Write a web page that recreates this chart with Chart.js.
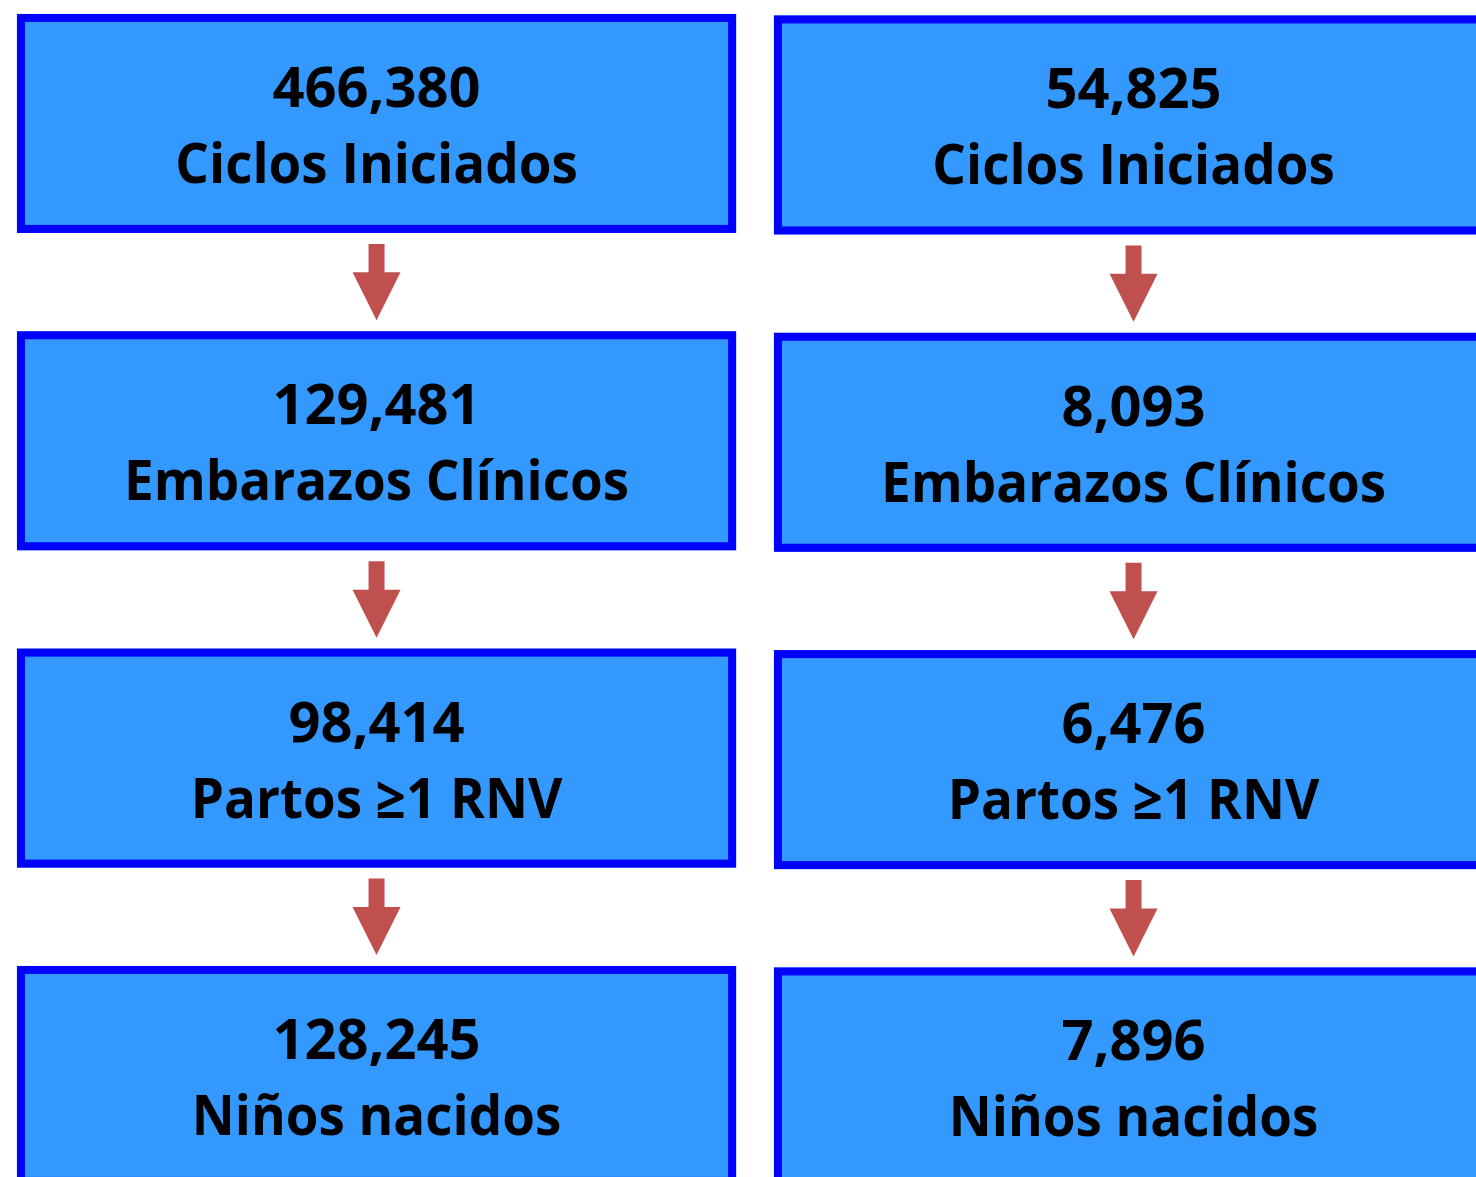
<!DOCTYPE html>
<html>
<head>
<meta charset="utf-8">
<script src="https://cdn.jsdelivr.net/npm/chart.js@4.4.1/dist/chart.umd.min.js"></script>
<style>
  html, body { margin: 0; padding: 0; background: #fff; overflow: hidden; }
  #wrap { width: 1476px; height: 1177px; }
</style>
</head>
<body>
<div id="wrap"><canvas id="myFlowChart"></canvas></div>
<script>
// etapas del flujo (de arriba abajo)
const stages = ["Ciclos Iniciados", "Embarazos Clínicos", "Partos ≥1 RNV", "Niños nacidos"];
// columna izquierda y derecha
const leftValues = [466380, 129481, 98414, 128245];
const rightValues = [54825, 8093, 6476, 7896];
const columns = [leftValues, rightValues];

const BOX_FILL = "#3399FF";
const BOX_BORDER = "#0000FF";
const ARROW = "#C0504D";
const FONT = '"Open Sans", "DejaVu Sans", sans-serif';

const flowBoxes = {
    id: "flowBoxes",
    afterDatasetsDraw(chart) {
        const ctx = chart.ctx;
        const xs = chart.scales.x, ys = chart.scales.y;
        const colStep = Math.abs(xs.getPixelForValue(1) - xs.getPixelForValue(0));
        const rowStep = Math.abs(ys.getPixelForValue(1) - ys.getPixelForValue(0));
        const w = colStep * 0.95, h = rowStep * 0.69;
        const border = 8;

        ctx.save();
        chart.data.datasets.forEach((ds, di) => {
            const meta = chart.getDatasetMeta(di);
            meta.data.forEach((pt, i) => {
                const cx = pt.x, cy = pt.y + di * 1.5; // la columna derecha va un poco más abajo
                const left = cx - w / 2, top = cy - h / 2;
                // caja
                ctx.fillStyle = BOX_FILL;
                ctx.fillRect(left, top, w, h);
                ctx.strokeStyle = BOX_BORDER;
                ctx.lineWidth = border;
                ctx.strokeRect(left + border / 2, top + border / 2, w - border, h - border);

                // textos
                ctx.fillStyle = "#000";
                ctx.textAlign = "center";
                ctx.textBaseline = "alphabetic";
                ctx.font = "bold 56px " + FONT;
                ctx.fillText(ds.data[i].v.toLocaleString("en-US"), cx, top + 93);
                const lw = ctx.measureText(stages[i]).width;
                ctx.fillText(stages[i], cx, top + 169, lw * 0.945);

                // flecha hacia la siguiente etapa
                if (i < meta.data.length - 1) {
                    const nextTop = meta.data[i + 1].y + di * 1.5 - h / 2;
                    const y0 = top + h + 11, y1 = nextTop - 11;
                    const headLen = 48, shaft = 16, head = 48;
                    ctx.fillStyle = ARROW;
                    ctx.beginPath();
                    ctx.moveTo(cx - shaft / 2, y0);
                    ctx.lineTo(cx + shaft / 2, y0);
                    ctx.lineTo(cx + shaft / 2, y1 - headLen);
                    ctx.lineTo(cx + head / 2, y1 - headLen);
                    ctx.lineTo(cx, y1);
                    ctx.lineTo(cx - head / 2, y1 - headLen);
                    ctx.lineTo(cx - shaft / 2, y1 - headLen);
                    ctx.closePath();
                    ctx.fill();
                }
            });
        });
        ctx.restore();
    }
};

const flowChart = () => {
    const datasets = columns.map((vals, c) => ({
        label: c === 0 ? "izquierda" : "derecha",
        data: vals.map((v, i) => ({ x: c, y: i, v: v })),
        pointRadius: 0,
        pointHoverRadius: 0,
        showLine: false
    }));

    var ctx = document.getElementById("myFlowChart").getContext("2d");
    new Chart(ctx, {
        type: "scatter",
        data: { datasets: datasets },
        options: {
            responsive: true,
            maintainAspectRatio: false,
            animation: false,
            layout: { padding: 0 },
            plugins: { legend: { display: false }, tooltip: { enabled: false } },
            events: [],
            scales: {
                x: { type: "linear", display: false, min: -0.4974, max: 1.4524 },
                y: { type: "linear", display: false, reverse: true, min: -0.389, max: 3.320 }
            }
        },
        plugins: [flowBoxes]
    });
}

flowChart();
</script>
</body>
</html>
